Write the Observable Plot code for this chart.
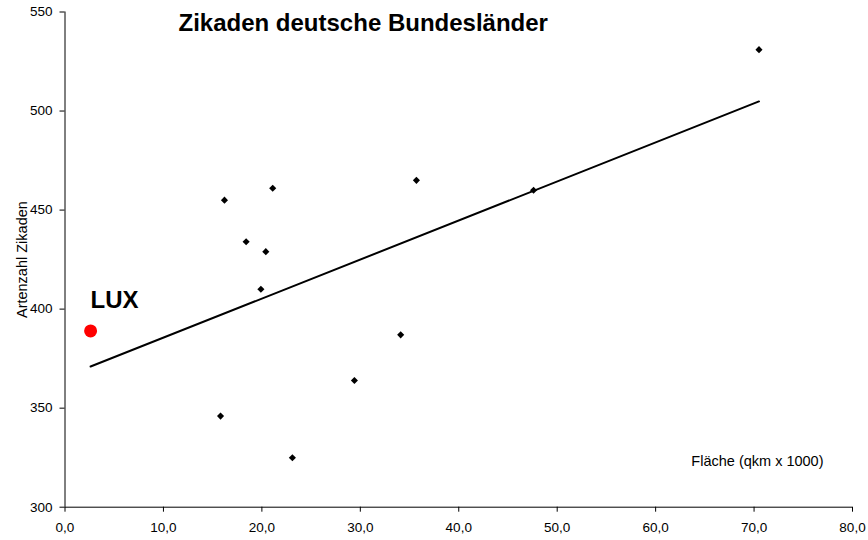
<!DOCTYPE html>
<html>
<head>
<meta charset="utf-8">
<script src="https://cdn.jsdelivr.net/npm/d3@7"></script>
<script src="https://cdn.jsdelivr.net/npm/@observablehq/plot@0.6"></script>
<style>
  html, body { margin: 0; padding: 0; background: #fff; }
  #chart { width: 868px; height: 540px; }
</style>
</head>
<body>
<div id="chart"></div>
<script>
// ---- data ----
const states = ["Bayern", "Niedersachsen", "Baden-Württemberg", "Hessen", "Thüringen", "Sachsen",
  "Sachsen-Anhalt", "Rheinland-Pfalz", "Nordrhein-Westfalen", "Brandenburg", "Schleswig-Holstein", "Mecklenburg-Vorpommern"];
const area = [70.5, 47.6, 35.7, 21.1, 16.2, 18.4, 20.4, 19.9, 34.1, 29.4, 15.8, 23.1];
const species = [531, 460, 465, 461, 455, 434, 429, 410, 387, 364, 346, 325];
const luxName = ["LUX"];
const luxArea = [2.6];
const luxSpecies = [389];
const xTicks = [0, 10, 20, 30, 40, 50, 60, 70, 80];
const yTicks = [300, 350, 400, 450, 500, 550];
const title = "Zikaden deutsche Bundesländer";
const xLabel = "Fläche (qkm x 1000)";
const yLabel = "Artenzahl Zikaden";

const statePts = states.map((s, i) => ({name: s, x: area[i], y: species[i]}));
const luxPts = luxName.map((s, i) => ({name: s, x: luxArea[i], y: luxSpecies[i]}));
const allPts = statePts.concat(luxPts);

const font = "'Liberation Sans', Arial, Helvetica, sans-serif";
const fmtX = d => d.toFixed(1).replace(".", ",");

const chart = Plot.plot({
  width: 868,
  height: 540,
  marginLeft: 64.5,
  marginRight: 16,
  marginTop: 11.5,
  marginBottom: 33.3,
  style: {fontFamily: font, fontSize: "13.5px", color: "#000", background: "#fff"},
  x: {domain: [xTicks[0], xTicks[xTicks.length - 1]]},
  y: {domain: [yTicks[0], yTicks[yTicks.length - 1]]},
  marks: [
    Plot.axisY({ticks: yTicks, tickSize: 5, tickPadding: 7.5, label: null, stroke: "#000"}),
    Plot.axisX({ticks: xTicks, tickSize: 5, tickPadding: 10.3, tickFormat: fmtX, label: null, stroke: "#000"}),
    Plot.ruleX([xTicks[0]], {stroke: "#000", strokeWidth: 1}),
    Plot.ruleY([yTicks[0]], {stroke: "#000", strokeWidth: 1}),
    Plot.linearRegressionY(allPts, {x: "x", y: "y", ci: 0, stroke: "#000", strokeWidth: 2}),
    Plot.dot(statePts, {x: "x", y: "y", symbol: "diamond2", r: 3.2, fill: "#000", stroke: null}),
    Plot.dot(luxPts, {x: "x", y: "y", r: 6.5, fill: "#ff0000", stroke: null}),
    Plot.text(luxPts, {x: "x", y: "y", text: "name", textAnchor: "start", lineAnchor: "bottom",
      dx: 0, dy: -23.4, fontSize: 24, fontWeight: "bold", fill: "#000"}),
    Plot.text([title], {frameAnchor: "top-left", text: d => d, textAnchor: "start", lineAnchor: "bottom",
      dx: 113.5, dy: 18.5, fontSize: 24, fontWeight: "bold", fill: "#000"}),
    Plot.text([xLabel], {frameAnchor: "bottom-right", text: d => d, textAnchor: "end", lineAnchor: "bottom",
      dx: -29, dy: -41.7, fontSize: 14.5, fill: "#000"}),
    Plot.text([yLabel], {frameAnchor: "left", text: d => d, textAnchor: "middle", lineAnchor: "bottom",
      rotate: -90, dx: -38, dy: 0, fontSize: 14.5, fill: "#000"})
  ]
});
document.getElementById("chart").appendChild(chart);
</script>
</body>
</html>
